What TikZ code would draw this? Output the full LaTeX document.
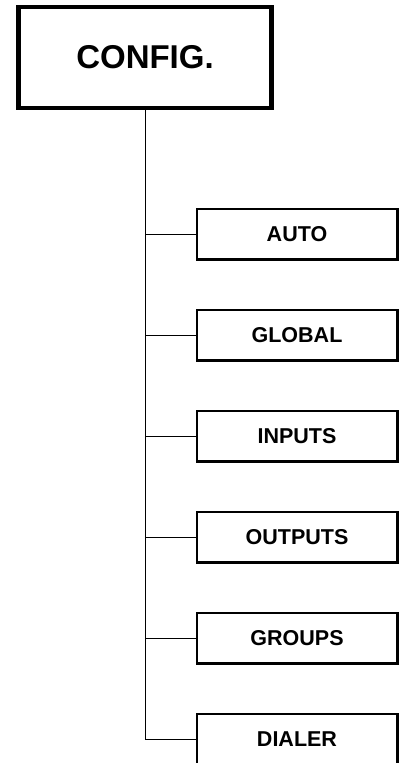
\documentclass[tikz,border=0pt]{standalone}
\usepackage{fontspec}
\setmainfont{Liberation Sans}
\usetikzlibrary{trees}

\begin{document}
\begin{tikzpicture}[x=1pt, y=1pt,
    menu/.style={draw, line width=4.5pt, minimum width=253pt, minimum height=101pt,
      font=\fontsize{33}{33}\selectfont\bfseries},
    submenu/.style={draw, line width=2.5pt, minimum width=200.5pt, minimum height=50.5pt,
      font=\fontsize{21.5}{21.5}\selectfont\bfseries},
    grow via three points={one child at (152pt,-176.5pt) and two children at (152pt,-176.5pt) and (152pt,-277.5pt)},
    edge from parent/.style={draw, line width=0.9pt},
    edge from parent path={(\tikzparentnode.south) |- (\tikzchildnode.west)}]
\useasboundingbox (0,0) rectangle (399,-763);
%%% configuration menu %%%

      \node[menu] (config) at (145,-57.5) { CONFIG. }
      %%
      child { node[submenu] (auto) { AUTO } }
      child { node[submenu] (global) { GLOBAL } }
      child { node[submenu] (inputs) { INPUTS } }
      child { node[submenu] (outputs) { OUTPUTS } }
      child { node[submenu] (groups) { GROUPS } }
      child { node[submenu] (dialer) { DIALER } }
      ;

\end{tikzpicture}
\end{document}
